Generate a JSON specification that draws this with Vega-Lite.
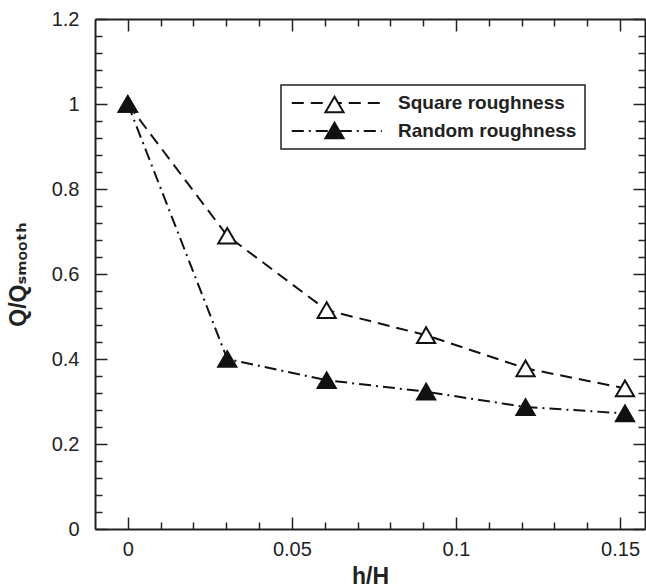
{
  "$schema": "https://vega.github.io/schema/vega-lite/v6.json",
  "width": 550,
  "height": 510,
  "autosize": {"type": "none"},
  "padding": {"left": 95, "top": 19, "right": 1, "bottom": 58},
  "background": "white",
  "config": {
    "view": {"stroke": null},
    "font": "Liberation Sans",
    "legend": {"strokeWidth": 1.5}
  },
  "data": {
    "values": [
      {"h": 0, "q": 1.0, "series": "Square roughness"},
      {"h": 0.0303, "q": 0.69, "series": "Square roughness"},
      {"h": 0.0606, "q": 0.515, "series": "Square roughness"},
      {"h": 0.0909, "q": 0.456, "series": "Square roughness"},
      {"h": 0.1212, "q": 0.378, "series": "Square roughness"},
      {"h": 0.1515, "q": 0.331, "series": "Square roughness"},
      {"h": 0, "q": 1.0, "series": "Random roughness"},
      {"h": 0.0303, "q": 0.40, "series": "Random roughness"},
      {"h": 0.0606, "q": 0.35, "series": "Random roughness"},
      {"h": 0.0909, "q": 0.323, "series": "Random roughness"},
      {"h": 0.1212, "q": 0.287, "series": "Random roughness"},
      {"h": 0.1515, "q": 0.272, "series": "Random roughness"}
    ]
  },
  "layer": [
    {
      "mark": {"type": "line", "strokeWidth": 2, "color": "#111"},
      "encoding": {
        "x": {
          "field": "h", "type": "quantitative",
          "scale": {"domain": [-0.01, 0.1576], "nice": false, "zero": false},
          "axis": {
            "orient": "bottom",
            "values": [0, 0.01, 0.02, 0.03, 0.04, 0.05, 0.06, 0.07, 0.08, 0.09, 0.1, 0.11, 0.12, 0.13, 0.14, 0.15],
            "tickSize": {"condition": {"test": "abs(datum.value*20-round(datum.value*20))<1e-6", "value": -12}, "value": -7},
            "tickWidth": 1.5, "tickColor": "#222",
            "domainColor": "#222", "domainWidth": 2,
            "grid": false,
            "labelExpr": "abs(datum.value*20-round(datum.value*20))<1e-6 ? format(datum.value, '.2~f') : ''",
            "labelFontSize": 20, "labelColor": "#222", "labelPadding": 22,
            "labelOverlap": false, "labelFlush": false,
            "title": "h/H", "titleFontSize": 23, "titleFontWeight": "bold", "titleColor": "#222", "titlePadding": 1
          }
        },
        "y": {
          "field": "q", "type": "quantitative",
          "scale": {"domain": [0, 1.2], "nice": false},
          "axis": {
            "orient": "left",
            "values": [0, 0.04, 0.08, 0.12, 0.16, 0.2, 0.24, 0.28, 0.32, 0.36, 0.4, 0.44, 0.48, 0.52, 0.56, 0.6, 0.64, 0.68, 0.72, 0.76, 0.8, 0.84, 0.88, 0.92, 0.96, 1, 1.04, 1.08, 1.12, 1.16, 1.2],
            "tickSize": {"condition": {"test": "abs(datum.value*5-round(datum.value*5))<1e-6", "value": -12}, "value": -7},
            "tickWidth": 1.5, "tickColor": "#222",
            "domainColor": "#222", "domainWidth": 2,
            "grid": false,
            "labelExpr": "abs(datum.value*5-round(datum.value*5))<1e-6 ? format(datum.value, '.1~f') : ''",
            "labelFontSize": 20, "labelColor": "#222", "labelPadding": 28,
            "labelOverlap": false, "labelFlush": false,
            "title": "Q/Qₛₘₒₒₜₕ", "titleFont": "Liberation Sans, DejaVu Sans", "titleFontSize": 23, "titleFontWeight": "bold", "titleColor": "#222", "titlePadding": 21
          }
        },
        "strokeDash": {
          "field": "series", "type": "nominal", "sort": "descending",
          "scale": {"range": [[12, 7], [12, 5, 2, 5]]},
          "legend": {
            "orient": "none", "legendX": 186, "legendY": 66,
            "title": null,
            "symbolType": "M-0.8,0H9.2", "symbolSize": 324, "symbolStrokeWidth": 2, "symbolStrokeColor": "#111",
            "labelExpr": "datum.label + '\u00a0\u00a0'",
            "labelFontSize": 19, "labelFontWeight": "bold", "labelColor": "#222", "labelOffset": 89, "labelLimit": 400,
            "padding": 8, "rowPadding": 8,
            "strokeColor": "#222"
          }
        }
      }
    },
    {
      "mark": {"type": "point", "shape": "triangle-up", "size": 330, "stroke": "#111", "strokeWidth": 2, "filled": true, "opacity": 1},
      "encoding": {
        "x": {
          "field": "h", "type": "quantitative",
          "scale": {"domain": [-0.01, 0.1576], "nice": false, "zero": false},
          "axis": {
            "orient": "top",
            "values": [0, 0.01, 0.02, 0.03, 0.04, 0.05, 0.06, 0.07, 0.08, 0.09, 0.1, 0.11, 0.12, 0.13, 0.14, 0.15],
            "tickSize": {"condition": {"test": "abs(datum.value*20-round(datum.value*20))<1e-6", "value": -12}, "value": -7},
            "tickWidth": 1.5, "tickColor": "#222",
            "domainColor": "#222", "domainWidth": 2,
            "grid": false, "labels": false, "title": null
          }
        },
        "y": {
          "field": "q", "type": "quantitative",
          "scale": {"domain": [0, 1.2], "nice": false},
          "axis": {
            "orient": "right",
            "values": [0, 0.04, 0.08, 0.12, 0.16, 0.2, 0.24, 0.28, 0.32, 0.36, 0.4, 0.44, 0.48, 0.52, 0.56, 0.6, 0.64, 0.68, 0.72, 0.76, 0.8, 0.84, 0.88, 0.92, 0.96, 1, 1.04, 1.08, 1.12, 1.16, 1.2],
            "tickSize": {"condition": {"test": "abs(datum.value*5-round(datum.value*5))<1e-6", "value": -12}, "value": -7},
            "tickWidth": 1.5, "tickColor": "#222",
            "domainColor": "#222", "domainWidth": 2,
            "grid": false, "labels": false, "title": null
          }
        },
        "fill": {
          "field": "series", "type": "nominal",
          "scale": {"domain": ["Square roughness", "Random roughness"], "range": ["white", "#111"]},
          "legend": {
            "orient": "none", "legendX": 221, "legendY": 67,
            "title": null,
            "symbolType": "triangle-up", "symbolSize": 330, "symbolStrokeWidth": 2, "symbolStrokeColor": "#111", "symbolOpacity": 1,
            "labelExpr": "''",
            "labelFontSize": 19, "labelOffset": 0,
            "padding": 8, "rowPadding": 1
          }
        }
      }
    }
  ],
  "resolve": {"axis": {"x": "independent", "y": "independent"}}
}
